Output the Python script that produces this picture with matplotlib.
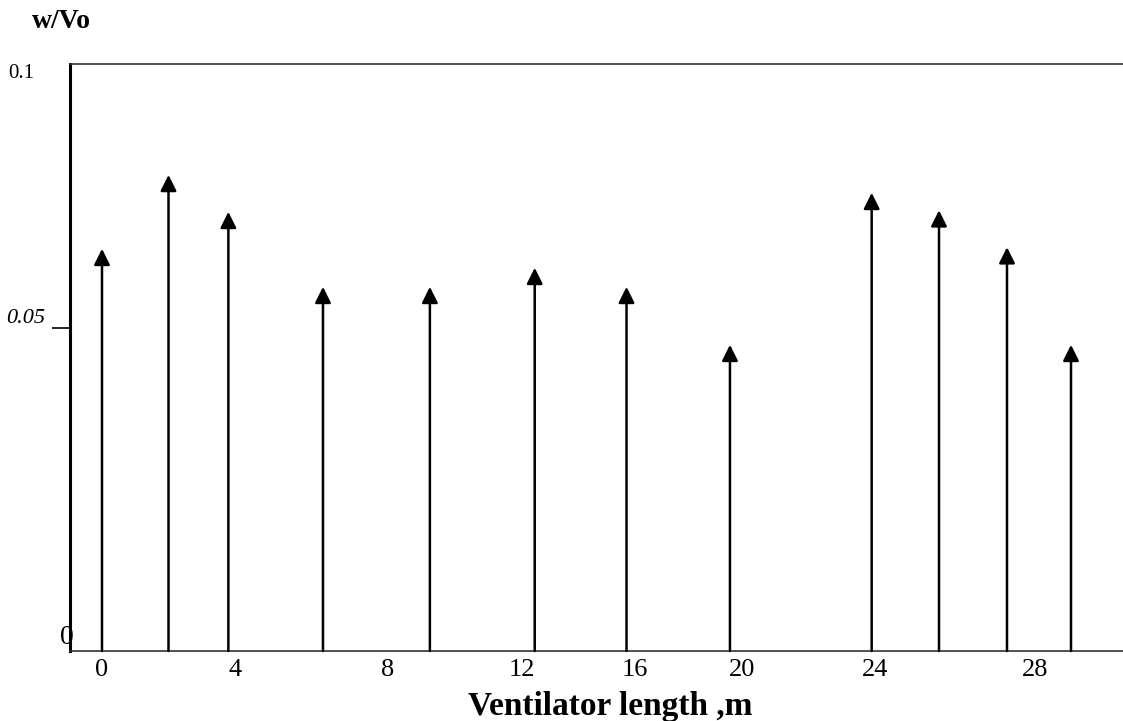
import numpy as np
import matplotlib.pyplot as plt

plt.rcParams['font.family'] = ['Liberation Serif', 'DejaVu Serif']

# ventilator position (m) and w/Vo
positions = [0, 2, 3.8, 6.3, 9.25, 12.45, 15.7, 19.55, 23.9, 25.6, 27.3, 28.9]
w_vo = [0.065, 0.079, 0.072, 0.0578, 0.0578, 0.0614, 0.0578, 0.0474,
        0.0756, 0.0723, 0.0653, 0.0474]
xtick_vals = [0, 4, 8, 12, 16, 20, 24, 28]

# the original drawing is hand-spaced, so both axes use piecewise scales
x_knots = [-0.96, 0, 4, 8, 12, 16, 20, 24, 28, 30.2]
x_units = [70, 102, 235, 388, 522, 635, 742, 875, 1035, 1123]
y_knots = [0, 0.05, 0.1]
y_units = [0, 323, 587]


def fx(v):
    return np.interp(v, x_knots, x_units)


def fx_inv(v):
    return np.interp(v, x_units, x_knots)


def fy(v):
    return np.interp(v, y_knots, y_units)


def fy_inv(v):
    return np.interp(v, y_units, y_knots)


fig = plt.figure(figsize=(11.23, 7.21), dpi=100)
ax = fig.add_axes([70 / 1123, 70 / 721, 1053 / 1123, 587 / 721])
ax.set_xscale('function', functions=(fx, fx_inv))
ax.set_yscale('function', functions=(fy, fy_inv))
ax.set_xlim(-0.96, 30.2)
ax.set_ylim(0, 0.1)

for x, v in zip(positions, w_vo):
    ax.annotate('', xy=(x, v), xytext=(x, 0),
                arrowprops=dict(arrowstyle='-|>,head_length=0.6,head_width=0.3',
                                mutation_scale=16, lw=1.8, color='black',
                                shrinkA=0, shrinkB=0))

ax.spines['right'].set_visible(False)
ax.spines['left'].set_linewidth(2.2)
ax.spines['top'].set_linewidth(1.2)
ax.spines['top'].set_color('#333333')
ax.spines['bottom'].set_linewidth(1.2)
ax.spines['bottom'].set_color('#333333')

ax.set_xticks(xtick_vals)
ax.set_xticklabels([str(t) for t in xtick_vals], fontsize=19)
ax.tick_params(axis='x', length=0, pad=6)
ax.set_yticks([0.05])
ax.set_yticklabels(['0.05'], fontsize=16, style='italic')
ax.tick_params(axis='y', length=13, width=1.2, pad=5)
for lbl in ax.get_yticklabels():
    lbl.set_verticalalignment('bottom')

ax.text(-0.034, 1 - 10 / 587, '0.1', transform=ax.transAxes, fontsize=15,
        ha='right', va='center')
ax.text(-0.003, 14 / 587, '0', transform=ax.transAxes, fontsize=20,
        ha='center', va='center')
fig.text(32 / 1123, 1 - 22 / 721, 'w/Vo', fontsize=20, fontweight='bold',
         ha='left', va='center')
ax.set_xlabel('Ventilator length ,m', fontsize=24, fontweight='bold',
              va='center')
ax.xaxis.set_label_coords((610 - 70) / 1053, -56 / 587)

plt.savefig('out.png', dpi=100)
